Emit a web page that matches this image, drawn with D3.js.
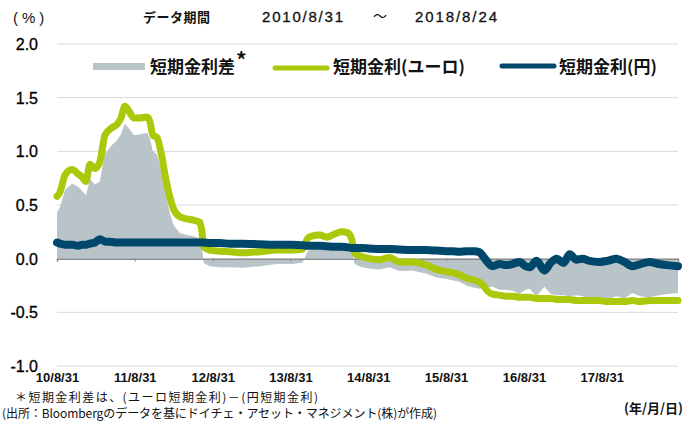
<!DOCTYPE html>
<html>
<head>
<meta charset="utf-8">
<script src="https://cdn.jsdelivr.net/npm/d3@7"></script>
<style>
  body { margin: 0; background: #fff; }
  svg { display: block; font-family: "Liberation Sans", Arial, "Noto Sans CJK JP", sans-serif; }
</style>
</head>
<body>
<svg id="chart" width="693" height="421"></svg>
<script>
// data
const dates = ["2010-08-31","2010-09-14","2010-10-08","2010-11-10","2010-12-08","2010-12-27","2011-01-14","2011-02-02","2011-02-25","2011-03-20",
  "2011-04-13","2011-05-16","2011-06-08","2011-06-27","2011-07-16","2011-08-08","2011-08-27","2011-09-24","2011-10-27","2011-11-10",
  "2011-11-24","2011-12-13","2012-01-05","2012-01-24","2012-02-12","2012-03-01","2012-03-30","2012-05-01","2012-05-30","2012-07-01",
  "2012-07-10","2012-07-20","2012-08-17","2012-10-03","2012-11-19","2013-01-19","2013-04-09","2013-06-28","2013-09-11","2013-10-27",
  "2013-11-20","2013-12-08","2014-01-15","2014-02-17","2014-03-26","2014-04-28","2014-05-27","2014-06-14","2014-06-28","2014-07-31",
  "2014-09-07","2014-10-23","2014-12-09","2015-01-25","2015-03-27","2015-06-01","2015-07-17","2015-09-02","2015-09-30","2015-11-02",
  "2015-12-04","2016-01-11","2016-02-04","2016-02-22","2016-03-12","2016-04-05","2016-05-08","2016-06-10","2016-07-08","2016-08-10",
  "2016-09-07","2016-09-26","2016-10-29","2016-12-05","2017-01-03","2017-01-31","2017-03-05","2017-04-02","2017-05-05","2017-06-02",
  "2017-07-04","2017-08-20","2017-09-27","2017-11-08","2017-12-15","2018-01-22","2018-02-28","2018-04-11","2018-05-28","2018-07-05",
  "2018-08-24"];

const euroRate = [0.58,0.62,0.78,0.83,0.79,0.76,0.72,0.88,0.84,0.90,
  1.15,1.22,1.25,1.31,1.42,1.36,1.31,1.31,1.32,1.28,
  1.15,1.13,0.95,0.74,0.57,0.46,0.39,0.37,0.36,0.34,
  0.27,0.11,0.08,0.07,0.065,0.055,0.065,0.08,0.08,0.09,
  0.19,0.21,0.22,0.20,0.23,0.25,0.24,0.18,0.05,0.02,
  0.00,-0.01,0.01,-0.03,-0.03,-0.06,-0.10,-0.12,-0.13,-0.15,
  -0.18,-0.20,-0.22,-0.25,-0.30,-0.33,-0.34,-0.35,-0.35,-0.36,
  -0.36,-0.36,-0.37,-0.37,-0.37,-0.38,-0.38,-0.38,-0.39,-0.39,
  -0.39,-0.39,-0.40,-0.40,-0.40,-0.39,-0.40,-0.39,-0.39,-0.39,
  -0.39];

const yenRate = [0.15,0.14,0.13,0.13,0.12,0.13,0.13,0.14,0.15,0.18,
  0.16,0.155,0.15,0.15,0.15,0.15,0.15,0.15,0.15,0.15,
  0.15,0.15,0.15,0.15,0.15,0.15,0.15,0.15,0.15,0.15,
  0.15,0.15,0.145,0.145,0.14,0.14,0.135,0.13,0.13,0.125,
  0.12,0.12,0.12,0.115,0.11,0.11,0.105,0.10,0.10,0.10,
  0.095,0.09,0.09,0.085,0.08,0.08,0.075,0.07,0.07,0.065,
  0.07,0.07,0.06,0.02,-0.03,-0.07,-0.05,-0.06,-0.05,-0.03,
  -0.07,-0.08,-0.02,-0.11,-0.04,0.00,-0.04,0.04,-0.01,0.00,
  -0.02,-0.03,-0.02,0.00,-0.03,-0.07,-0.05,-0.03,-0.05,-0.06,
  -0.07];

const spread = [0.43,0.48,0.64,0.70,0.67,0.63,0.59,0.74,0.69,0.72,
  0.98,1.06,1.10,1.16,1.26,1.20,1.15,1.16,1.17,1.12,
  1.00,0.97,0.80,0.59,0.42,0.31,0.24,0.22,0.21,0.19,
  0.12,-0.04,-0.07,-0.08,-0.08,-0.085,-0.07,-0.05,-0.05,-0.035,
  0.07,0.09,0.10,0.085,0.12,0.14,0.135,0.08,-0.05,-0.08,
  -0.095,-0.10,-0.08,-0.115,-0.11,-0.14,-0.175,-0.19,-0.20,-0.215,
  -0.25,-0.27,-0.28,-0.27,-0.27,-0.26,-0.29,-0.29,-0.30,-0.33,
  -0.29,-0.28,-0.35,-0.26,-0.33,-0.34,-0.34,-0.35,-0.34,-0.35,
  -0.37,-0.36,-0.38,-0.35,-0.37,-0.32,-0.35,-0.36,-0.34,-0.33,
  -0.32];

const yTicks = [2.0, 1.5, 1.0, 0.5, 0.0, -0.5, -1.0];
const xTickDates = ["2010-08-31","2011-08-31","2012-08-31","2013-08-31","2014-08-31","2015-08-31","2016-08-31","2017-08-31"];
const legendLabels = ["短期金利差", "短期金利(ユーロ)", "短期金利(円)"];

const colors = { spread: "#b9c4c9", euro: "#acc80a", yen: "#00486b" };

const parse = d3.timeParse("%Y-%m-%d");
const rows = dates.map((d, i) => ({ date: parse(d), euro: euroRate[i], yen: yenRate[i], spread: spread[i] }));

const margin = { left: 57, right: 15, top: 44, bottom: 55 };
const width = 693, height = 421;

const svg = d3.select("#chart");

const x = d3.scaleTime()
  .domain([parse("2010-08-31"), parse("2018-08-24")])
  .range([margin.left, width - margin.right]);

const y = d3.scaleLinear()
  .domain([-1, 2])
  .range([height - margin.bottom, margin.top]);

// grid lines
svg.append("g")
  .selectAll("line")
  .data(yTicks.filter(d => d !== 0))
  .join("line")
  .attr("x1", margin.left).attr("x2", width - margin.right)
  .attr("y1", d => y(d)).attr("y2", d => y(d))
  .attr("stroke", "#d6d9db").attr("stroke-width", 1);

// y axis labels
svg.append("g")
  .selectAll("text")
  .data(yTicks)
  .join("text")
  .attr("x", 38).attr("y", d => y(d) + 6)
  .attr("text-anchor", "end")
  .attr("font-size", 16)
  .attr("fill", "#000")
  .attr("stroke", "#000").attr("stroke-width", 0.3)
  .text(d => d3.format(".1f")(d).replace("−", "-"));

// spread area
svg.append("path")
  .datum(rows)
  .attr("fill", colors.spread)
  .attr("d", d3.area().x(d => x(d.date)).y0(y(0)).y1(d => y(d.spread)));

// zero line with yearly ticks
const zeroAxis = svg.append("g")
  .attr("transform", `translate(0, ${y(0)})`)
  .call(d3.axisBottom(x)
    .tickValues(xTickDates.map(parse).concat([parse("2018-08-24")]))
    .tickSize(3)
    .tickFormat(""));
zeroAxis.select(".domain").attr("stroke", "#8c8c8c").attr("stroke-width", 1.5);
zeroAxis.selectAll(".tick line").attr("stroke", "#8c8c8c");

// lines
const lineOf = key => d3.line().x(d => x(d.date)).y(d => y(d[key])).curve(d3.curveMonotoneX);

svg.append("path")
  .datum(rows)
  .attr("fill", "none")
  .attr("stroke", colors.euro)
  .attr("stroke-width", 7)
  .attr("stroke-linejoin", "round")
  .attr("stroke-linecap", "round")
  .attr("d", lineOf("euro"));

svg.append("path")
  .datum(rows)
  .attr("fill", "none")
  .attr("stroke", colors.yen)
  .attr("stroke-width", 8)
  .attr("stroke-linejoin", "round")
  .attr("stroke-linecap", "round")
  .attr("d", lineOf("yen"));

// bottom date labels
const xAxis = svg.append("g")
  .attr("transform", `translate(0, ${y(-1)})`)
  .call(d3.axisBottom(x)
    .tickValues(xTickDates.map(parse))
    .tickSize(0)
    .tickPadding(7)
    .tickFormat(d3.timeFormat("%y/%-m/%d")));
xAxis.select(".domain").remove();
xAxis.selectAll("text")
  .attr("font-family", "'Liberation Sans', Arial, sans-serif")
  .attr("font-size", 13)
  .attr("font-weight", "bold")
  .attr("fill", "#111");

// legend
const legend = svg.append("g").attr("font-family", "'Noto Sans CJK JP', sans-serif");
legend.append("rect")
  .attr("x", 93).attr("y", 63).attr("width", 52).attr("height", 7)
  .attr("fill", colors.spread);
legend.append("text")
  .attr("x", 150).attr("y", 73)
  .attr("font-size", 17).attr("font-weight", "bold").attr("fill", "#111")
  .text(legendLabels[0]);
legend.append("text")
  .attr("x", 236).attr("y", 68)
  .attr("font-size", 21).attr("font-weight", "bold").attr("fill", "#111")
  .text("*");

legend.append("line")
  .attr("x1", 275).attr("x2", 327).attr("y1", 68).attr("y2", 68)
  .attr("stroke", colors.euro).attr("stroke-width", 5).attr("stroke-linecap", "round");
legend.append("text")
  .attr("x", 333).attr("y", 73)
  .attr("font-size", 17).attr("font-weight", "bold").attr("fill", "#111")
  .text(legendLabels[1]);

legend.append("line")
  .attr("x1", 502).attr("x2", 554).attr("y1", 66).attr("y2", 66)
  .attr("stroke", colors.yen).attr("stroke-width", 5).attr("stroke-linecap", "round");
legend.append("text")
  .attr("x", 559).attr("y", 73)
  .attr("font-size", 17).attr("font-weight", "bold").attr("fill", "#111")
  .text(legendLabels[2]);

// header texts
const jp = "'Noto Sans CJK JP', sans-serif";
svg.append("text")
  .attr("x", 13).attr("y", 23)
  .attr("font-size", 15).attr("fill", "#111")
  .attr("letter-spacing", 4)
  .text("(%)");
svg.append("text")
  .attr("x", 143).attr("y", 22)
  .attr("font-family", jp).attr("font-size", 13).attr("font-weight", "bold").attr("fill", "#111")
  .attr("textLength", 67)
  .text("データ期間");
svg.append("text")
  .attr("x", 262).attr("y", 22)
  .attr("font-size", 15).attr("fill", "#111")
  .attr("stroke", "#111").attr("stroke-width", 0.3)
  .attr("textLength", 81)
  .text("2010/8/31");
svg.append("text")
  .attr("x", 380).attr("y", 21)
  .attr("text-anchor", "middle")
  .attr("font-family", jp).attr("font-size", 14).attr("fill", "#111")
  .text("～");
svg.append("text")
  .attr("x", 415).attr("y", 22)
  .attr("font-size", 15).attr("fill", "#111")
  .attr("stroke", "#111").attr("stroke-width", 0.3)
  .attr("textLength", 82)
  .text("2018/8/24");

// footnotes
svg.append("text")
  .attr("x", 15).attr("y", 402)
  .attr("font-family", jp).attr("font-size", 12).attr("fill", "#111")
  .attr("textLength", 303)
  .text("＊短期金利差は、(ユーロ短期金利)－(円短期金利)");
svg.append("text")
  .attr("x", 2).attr("y", 418)
  .attr("font-family", jp).attr("font-size", 12).attr("fill", "#111")
  .attr("textLength", 435)
  .text("(出所：Bloombergのデータを基にドイチェ・アセット・マネジメント(株)が作成)");
svg.append("text")
  .attr("x", 683).attr("y", 413)
  .attr("text-anchor", "end")
  .attr("font-family", jp).attr("font-size", 13).attr("font-weight", "bold").attr("fill", "#111")
  .text("(年/月/日)");
</script>
</body>
</html>
